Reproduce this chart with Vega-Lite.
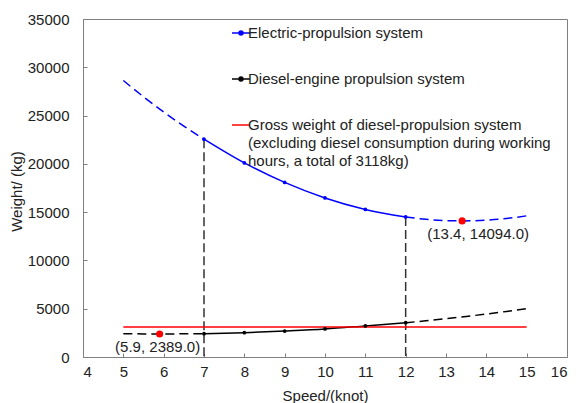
{
  "$schema": "https://vega.github.io/schema/vega-lite/v6.json",
  "width": 484,
  "height": 338,
  "autosize": {"type": "none"},
  "padding": {"left": 83, "top": 19, "right": 9, "bottom": 46},
  "background": "white",
  "config": {
    "font": "Liberation Sans",
    "view": {"stroke": "#808080", "strokeWidth": 1},
    "axis": {
      "grid": false,
      "domainColor": "#808080",
      "tickColor": "#808080",
      "labelFont": "Liberation Sans",
      "labelFontSize": 15,
      "labelColor": "#222",
      "titleFont": "Liberation Sans",
      "titleFontSize": 15,
      "titleFontWeight": "normal",
      "titleColor": "#222"
    }
  },
  "datasets": {
    "solid": [
      {"series": "Electric-propulsion system", "speed": 7, "weight": 22560},
      {"series": "Electric-propulsion system", "speed": 8, "weight": 20100},
      {"series": "Electric-propulsion system", "speed": 9, "weight": 18080},
      {"series": "Electric-propulsion system", "speed": 10, "weight": 16470},
      {"series": "Electric-propulsion system", "speed": 11, "weight": 15280},
      {"series": "Electric-propulsion system", "speed": 12, "weight": 14500},
      {"series": "Diesel-engine propulsion system", "speed": 7, "weight": 2410},
      {"series": "Diesel-engine propulsion system", "speed": 8, "weight": 2520},
      {"series": "Diesel-engine propulsion system", "speed": 9, "weight": 2690},
      {"series": "Diesel-engine propulsion system", "speed": 10, "weight": 2900},
      {"series": "Diesel-engine propulsion system", "speed": 11, "weight": 3220},
      {"series": "Diesel-engine propulsion system", "speed": 12, "weight": 3550},
      {"series": "Gross weight of diesel-propulsion system", "speed": 5, "weight": 3118},
      {"series": "Gross weight of diesel-propulsion system", "speed": 15, "weight": 3118}
    ],
    "dashed": [
      {"series": "Electric-propulsion system", "seg": "EL", "speed": 5, "weight": 28630},
      {"series": "Electric-propulsion system", "seg": "EL", "speed": 5.5, "weight": 26950},
      {"series": "Electric-propulsion system", "seg": "EL", "speed": 6, "weight": 25375},
      {"series": "Electric-propulsion system", "seg": "EL", "speed": 6.5, "weight": 23900},
      {"series": "Electric-propulsion system", "seg": "EL", "speed": 7, "weight": 22560},
      {"series": "Electric-propulsion system", "seg": "ER", "speed": 12, "weight": 14500},
      {"series": "Electric-propulsion system", "seg": "ER", "speed": 12.5, "weight": 14260},
      {"series": "Electric-propulsion system", "seg": "ER", "speed": 13, "weight": 14127},
      {"series": "Electric-propulsion system", "seg": "ER", "speed": 13.4, "weight": 14094},
      {"series": "Electric-propulsion system", "seg": "ER", "speed": 14, "weight": 14170},
      {"series": "Electric-propulsion system", "seg": "ER", "speed": 14.5, "weight": 14340},
      {"series": "Electric-propulsion system", "seg": "ER", "speed": 15, "weight": 14620},
      {"series": "Diesel-engine propulsion system", "seg": "DL", "speed": 5, "weight": 2414},
      {"series": "Diesel-engine propulsion system", "seg": "DL", "speed": 5.5, "weight": 2394},
      {"series": "Diesel-engine propulsion system", "seg": "DL", "speed": 5.9, "weight": 2389},
      {"series": "Diesel-engine propulsion system", "seg": "DL", "speed": 6.5, "weight": 2400},
      {"series": "Diesel-engine propulsion system", "seg": "DL", "speed": 7, "weight": 2410},
      {"series": "Diesel-engine propulsion system", "seg": "DR", "speed": 12, "weight": 3550},
      {"series": "Diesel-engine propulsion system", "seg": "DR", "speed": 12.5, "weight": 3750},
      {"series": "Diesel-engine propulsion system", "seg": "DR", "speed": 13, "weight": 3970},
      {"series": "Diesel-engine propulsion system", "seg": "DR", "speed": 13.5, "weight": 4200},
      {"series": "Diesel-engine propulsion system", "seg": "DR", "speed": 14, "weight": 4450},
      {"series": "Diesel-engine propulsion system", "seg": "DR", "speed": 14.5, "weight": 4720},
      {"series": "Diesel-engine propulsion system", "seg": "DR", "speed": 15, "weight": 5000}
    ],
    "vlines": [
      {"speed": 7, "weight": 22560},
      {"speed": 12, "weight": 14500}
    ],
    "optima": [
      {"speed": 5.9, "weight": 2389, "label": "(5.9, 2389.0)", "pos": "low"},
      {"speed": 13.4, "weight": 14094, "label": "(13.4, 14094.0)", "pos": "high"}
    ]
  },
  "layer": [
    {
      "data": {"name": "vlines"},
      "mark": {"type": "rule", "color": "#333333", "strokeWidth": 1.5, "strokeDash": [9, 4]},
      "encoding": {
        "x": {"field": "speed", "type": "quantitative"},
        "y": {"field": "weight", "type": "quantitative"},
        "y2": {"datum": 0}
      }
    },
    {
      "data": {"name": "dashed"},
      "mark": {"type": "line", "strokeWidth": 1.5, "strokeDash": [9, 5], "interpolate": "monotone"},
      "encoding": {
        "x": {"field": "speed", "type": "quantitative"},
        "y": {"field": "weight", "type": "quantitative"},
        "detail": {"field": "seg"},
        "color": {"field": "series", "type": "nominal"}
      }
    },
    {
      "data": {"name": "solid"},
      "mark": {"type": "line", "strokeWidth": 1.5, "interpolate": "monotone"},
      "encoding": {
        "x": {
          "field": "speed", "type": "quantitative",
          "scale": {"domain": [4, 16], "nice": false, "zero": false},
          "axis": {
            "values": [4, 5, 6, 7, 8, 9, 10, 11, 12, 13, 14, 15, 16],
            "title": "Speed/(knot)",
            "tickSize": -4,
            "labelPadding": 11,
            "titlePadding": 9
          }
        },
        "y": {
          "field": "weight", "type": "quantitative",
          "scale": {"domain": [0, 35000], "nice": false},
          "axis": {
            "values": [0, 2500, 5000, 7500, 10000, 12500, 15000, 17500, 20000, 22500, 25000, 27500, 30000, 32500, 35000],
            "labelExpr": "datum.value % 5000 == 0 ? datum.value + '' : ''",
            "title": "Weight/ (kg)",
            "tickSize": -4,
            "labelPadding": 18,
            "titlePadding": 3,
            "titleY": 172
          }
        },
        "color": {
          "field": "series", "type": "nominal",
          "scale": {
            "domain": ["Electric-propulsion system", "Diesel-engine propulsion system", "Gross weight of diesel-propulsion system"],
            "range": ["#0000ff", "#000000", "#ff0000"]
          },
          "legend": {
            "title": null,
            "orient": "none",
            "legendX": 148,
            "legendY": 4,
            "direction": "vertical",
            "padding": 0,
            "rowPadding": 28,
            "symbolSize": 324,
            "symbolStrokeWidth": 1.5,
            "labelFontSize": 15,
            "labelFont": "Liberation Sans",
            "labelColor": "#222",
            "labelOffset": -3,
            "labelLimit": 500,
            "labelExpr": "datum.label == 'Gross weight of diesel-propulsion system' ? ['Gross weight of diesel-propulsion system', '(excluding diesel consumption during working', 'hours, a total of 3118kg)'] : datum.label",
            "encoding": {
              "symbols": {
                "shape": {
                  "condition": {"test": "datum.value == 'Gross weight of diesel-propulsion system'", "value": "M-1,0H1"},
                  "value": "M-1,0H1M-0.22,0A0.22,0.22 0 1,0 0.22,0A0.22,0.22 0 1,0 -0.22,0"
                },
                "fill": {
                  "condition": [
                    {"test": "datum.value == 'Electric-propulsion system'", "value": "#0000ff"},
                    {"test": "datum.value == 'Diesel-engine propulsion system'", "value": "#000000"}
                  ],
                  "value": "transparent"
                },
                "stroke": {
                  "condition": [
                    {"test": "datum.value == 'Electric-propulsion system'", "value": "#0000ff"},
                    {"test": "datum.value == 'Diesel-engine propulsion system'", "value": "#000000"}
                  ],
                  "value": "#ff0000"
                }
              },
              "labels": {
                "lineHeight": {"value": 18}
              }
            }
          }
        }
      }
    },
    {
      "data": {"name": "solid"},
      "transform": [{"filter": "datum.speed >= 7 && datum.speed <= 12"}],
      "mark": {"type": "point", "filled": true, "size": 14, "opacity": 1},
      "encoding": {
        "x": {"field": "speed", "type": "quantitative"},
        "y": {"field": "weight", "type": "quantitative"},
        "color": {"field": "series", "type": "nominal"}
      }
    },
    {
      "data": {"name": "optima"},
      "mark": {"type": "point", "filled": true, "size": 50, "color": "#ff0000", "opacity": 1},
      "encoding": {
        "x": {"field": "speed", "type": "quantitative"},
        "y": {"field": "weight", "type": "quantitative"}
      }
    },
    {
      "data": {"name": "optima"},
      "transform": [{"filter": "datum.pos == 'low'"}],
      "mark": {"type": "text", "fontSize": 15, "color": "#222", "dy": 13, "dx": -2, "font": "Liberation Sans"},
      "encoding": {
        "x": {"field": "speed", "type": "quantitative"},
        "y": {"field": "weight", "type": "quantitative"},
        "text": {"field": "label"}
      }
    },
    {
      "data": {"name": "optima"},
      "transform": [{"filter": "datum.pos == 'high'"}],
      "mark": {"type": "text", "fontSize": 15, "color": "#222", "dy": 13, "dx": 16, "font": "Liberation Sans"},
      "encoding": {
        "x": {"field": "speed", "type": "quantitative"},
        "y": {"field": "weight", "type": "quantitative"},
        "text": {"field": "label"}
      }
    }
  ]
}
